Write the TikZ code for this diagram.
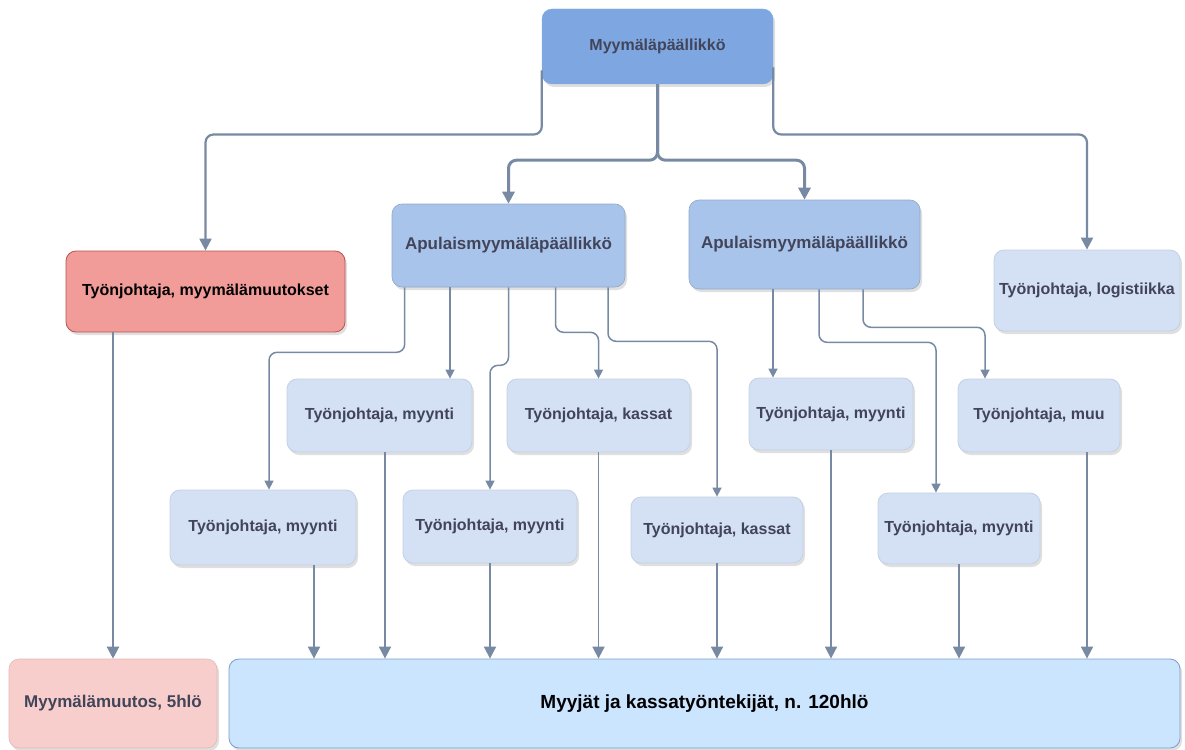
\documentclass[tikz,border=0pt]{standalone}
\usepackage{fontspec}
\setmainfont{Liberation Sans}
\usetikzlibrary{arrows.meta,shadows}

\definecolor{chef}{HTML}{7EA6E0}
\definecolor{apu}{HTML}{A9C4EB}
\definecolor{lead}{HTML}{D4E1F5}
\definecolor{leadline}{HTML}{C3D0E4}
\definecolor{redfill}{HTML}{F19C99}
\definecolor{redline}{HTML}{B85450}
\definecolor{pinkfill}{HTML}{F8CECC}
\definecolor{staff}{HTML}{CCE5FF}
\definecolor{staffline}{HTML}{7C9CC8}
\definecolor{wire}{HTML}{788AA3}
\definecolor{ink}{HTML}{42455A}

\begin{document}
\begin{tikzpicture}[x=1pt,y=-1pt,line join=round,>={Triangle[length=9pt,width=9pt]},
  box/.style={rectangle,rounded corners=10pt,font=\bfseries\fontsize{16}{19}\selectfont,
    text=ink,align=center,drop shadow={opacity=0.25,shadow xshift=2pt,shadow yshift=-3pt}},
  lead/.style={box,fill=lead,draw=leadline,line width=0.8pt},
  link/.style={draw=wire,line width=1.5pt,rounded corners=8pt},
  main/.style={link,line width=2.2pt,>={Triangle[length=12pt,width=12pt]}}]
  \useasboundingbox (0,0) rectangle (1185,749);

  % top levels
  \node[box,fill=chef,draw=chef,minimum width=231pt,minimum height=75pt] (top) at (657.5,46.5) {Myymäläpäällikkö};
  \node[box,fill=apu,draw=apu!85!black,line width=0.6pt,minimum width=233pt,minimum height=83pt,
    font=\bfseries\fontsize{17}{20}\selectfont] (ap1) at (508.5,245.5) {Apulaismyymäläpäällikkö};
  \node[box,fill=apu,draw=apu!85!black,line width=0.6pt,minimum width=231pt,minimum height=89pt,
    font=\bfseries\fontsize{17}{20}\selectfont] (ap2) at (804.5,244.5) {Apulaismyymäläpäällikkö};
  \node[box,fill=redfill,draw=redline,line width=0.8pt,text=black,minimum width=279pt,minimum height=81pt] (red) at (205.5,291.5) {Työnjohtaja, myymälämuutokset};
  \node[lead,minimum width=186pt,minimum height=81pt] (logi) at (1087,290.5) {Työnjohtaja, logistiikka};

  % foremen
  \node[lead,minimum width=185pt,minimum height=73pt] (my1) at (379.5,415.5) {Työnjohtaja, myynti};
  \node[lead,minimum width=183pt,minimum height=73pt] (ka1) at (598.5,415.5) {Työnjohtaja, kassat};
  \node[lead,minimum width=164pt,minimum height=72pt] (my3) at (831,414) {Työnjohtaja, myynti};
  \node[lead,minimum width=162pt,minimum height=73pt] (muu) at (1039,415.5) {Työnjohtaja, muu};
  \node[lead,minimum width=186pt,minimum height=75pt] (my2) at (263,527.5) {Työnjohtaja, myynti};
  \node[lead,minimum width=174pt,minimum height=73pt] (myb) at (490,526.5) {Työnjohtaja, myynti};
  \node[lead,minimum width=172pt,minimum height=66pt] (ka2) at (717,530) {Työnjohtaja, kassat};
  \node[lead,minimum width=162pt,minimum height=71pt] (my4) at (959,528.5) {Työnjohtaja, myynti};

  % staff
  \node[box,fill=pinkfill,draw=pinkfill!90!black,line width=0.6pt,minimum width=208pt,minimum height=89pt,
    font=\bfseries\fontsize{17}{20}\selectfont] (mm) at (113,703.5) {Myymälämuutos, 5hlö};
  \node[box,fill=staff,draw=staffline,line width=0.8pt,text=black,minimum width=951pt,minimum height=89pt,
    font=\bfseries\fontsize{19}{22}\selectfont] (myy) at (704.5,703.5) {Myyjät ja kassatyöntekijät, n. 120hlö};

  % from the store manager
  \draw[main,line width=3pt,->] (top.south) -- ++(0,76) -| (ap1.north);
  \draw[main,line width=3pt,->] (top.south) -- ++(0,76) -| (ap2.north);
  \draw[main,->] ([yshift=-24pt]top.west) -- ++(0,64) -| (red.north);
  \draw[main,->] ([yshift=-21pt]top.east) -- ++(0,67) -| (logi.north);

  % assistant managers
  \draw[link,->] ([xshift=13pt]ap1.south west) -- ++(0,65) -| ([xshift=6pt]my2.north);
  \draw[link,->] ([xshift=-58.5pt]ap1.south) -- ([xshift=70.5pt]my1.north);
  \draw[link,->] (ap1.south) -- ++(0,78) -| (myb.north);
  \draw[link,->] ([xshift=47pt]ap1.south) -- ++(0,45) -| (ka1.north);
  \draw[link,->] ([xshift=99.5pt]ap1.south) -- ++(0,54) -| (ka2.north);
  \draw[link,->] ([xshift=-31.5pt]ap2.south) -- ([xshift=-58pt]my3.north);
  \draw[link,->] ([xshift=14.5pt]ap2.south) -- ++(0,53) -| ([xshift=-23pt]my4.north);
  \draw[link,->] ([xshift=58.5pt]ap2.south) -- ++(0,38) -| ([xshift=-54pt]muu.north);

  % down to the staff
  \coordinate (o1) at ([xshift=51pt]my2.south);
  \coordinate (o2) at ([xshift=5.5pt]my1.south);
  \coordinate (o3) at ([xshift=48pt]muu.south);
  \draw[main,->] (mm.north |- red.south) -- (mm.north);
  \foreach \src in {o1,o2,myb.south,ka1.south,ka2.south,my3.south,my4.south,o3}
    \draw[main,line width=1.8pt,->] (\src) -- (\src |- myy.north);
\end{tikzpicture}
\end{document}
